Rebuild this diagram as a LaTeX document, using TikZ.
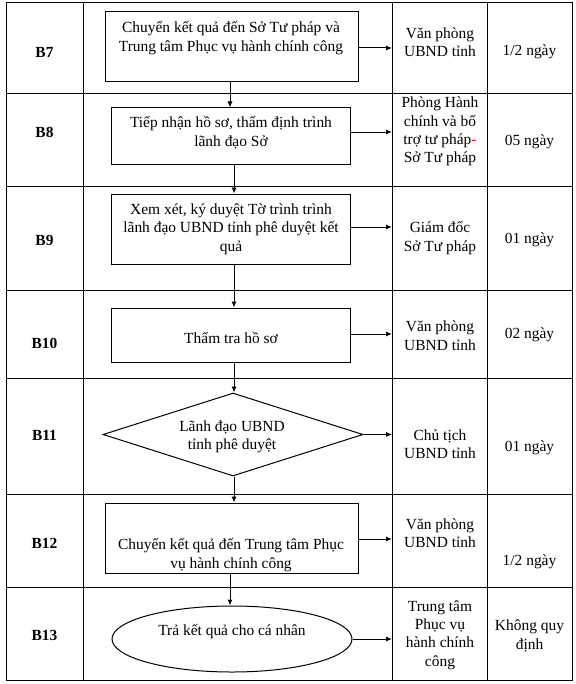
\documentclass[tikz,border=0pt]{standalone}
\usepackage{fontspec}
\setmainfont{Liberation Serif}
\usetikzlibrary{shapes.geometric,arrows.meta}
\begin{document}
\begin{tikzpicture}[x=1bp,y=-1bp,
  txt/.style={font=\fontsize{15.5}{18.5}\selectfont, align=center, inner sep=0pt},
  lbl/.style={font=\fontsize{15.5}{18.5}\selectfont\bfseries, inner sep=0pt},
  gridline/.style={line width=1bp, black},
  box/.style={draw, line width=1bp, rectangle, inner sep=0pt},
  dia/.style={draw, line width=1bp, diamond, inner sep=0pt},
  ell/.style={draw, line width=1bp, ellipse, inner sep=0pt},
  arr/.style={line width=1bp, -{Latex[length=6bp,width=5bp]}}]
\useasboundingbox (0,0) rectangle (576,684);
% table grid
\draw[gridline] (6,3) rectangle (572,680);
\foreach \yy in {94,186,290,378,494,587} \draw[gridline] (6,\yy) -- (572,\yy);
\foreach \xx in {83,392,487} \draw[gridline] (\xx,3) -- (\xx,680);
% step labels
\node[lbl] (l7) at (44.5,52) {B7};
\node[lbl] (l8) at (44.5,132) {B8};
\node[lbl] (l9) at (44.5,240) {B9};
\node[lbl] (l10) at (44.5,343) {B10};
\node[lbl] (l11) at (44.5,435) {B11};
\node[lbl] (l12) at (44.5,543) {B12};
\node[lbl] (l13) at (44.5,635) {B13};
% flowchart shapes
\node[box, minimum width=253bp, minimum height=70bp] (b7) at (231.5,47) {};
\node[box, minimum width=239bp, minimum height=56bp] (b8) at (230.5,136) {};
\node[box, minimum width=239bp, minimum height=70bp] (b9) at (230.5,229) {};
\node[box, minimum width=239bp, minimum height=54bp] (b10) at (230.5,335) {};
\node[dia, minimum width=260bp, minimum height=83bp] (b11) at (233,434.5) {};
\node[box, minimum width=253bp, minimum height=70bp] (b12) at (231.5,538) {};
\node[ell, minimum width=240bp, minimum height=66bp] (b13) at (232,639) {};
% texts in shapes
\node[txt] (t7) at (231,38) {Chuyển kết quả đến Sở Tư pháp và\\Trung tâm Phục vụ hành chính công};
\node[txt] (t8) at (231,132.5) {Tiếp nhận hồ sơ, thẩm định trình\\lãnh đạo Sở};
\node[txt] (t9) at (231,229) {Xem xét, ký duyệt Tờ trình trình\\lãnh đạo UBND tỉnh phê duyệt kết\\quả};
\node[txt] (t10) at (231,338) {Thẩm tra hồ sơ};
\node[txt] (t11) at (232,437) {Lãnh đạo UBND\\tỉnh phê duyệt};
\node[txt] (t12) at (231,555) {Chuyển kết quả đến Trung tâm Phục\\vụ hành chính công};
\node[txt] (t13) at (232,632) {Trả kết quả cho cá nhân};
% responsible units
\node[txt] (r7) at (440,42) {Văn phòng\\UBND tỉnh};
\node[txt] (r8) at (440,131.5) {Phòng Hành\\chính và bổ\\trợ tư pháp\textcolor{red}{-}\\Sở Tư pháp};
\node[txt] (r9) at (440,238) {Giám đốc\\Sở Tư pháp};
\node[txt] (r10) at (440,335.5) {Văn phòng\\UBND tỉnh};
\node[txt] (r11) at (440,444) {Chủ tịch\\UBND tỉnh};
\node[txt] (r12) at (440,533) {Văn phòng\\UBND tỉnh};
\node[txt] (r13) at (440,635) {Trung tâm\\Phục vụ\\hành chính\\công};
% durations
\node[txt] (d7) at (529.5,52) {1/2 ngày};
\node[txt] (d8) at (529.5,142) {05 ngày};
\node[txt] (d9) at (529.5,240) {01 ngày};
\node[txt] (d10) at (529.5,335) {02 ngày};
\node[txt] (d11) at (529.5,448) {01 ngày};
\node[txt] (d12) at (529.5,562) {1/2 ngày};
\node[txt] (d13) at (529.5,636) {Không quy\\định};
% arrow end points on the column line
\coordinate (e7) at (392,48);
\coordinate (e8) at (392,132);
\coordinate (e9) at (392,227);
\coordinate (e10) at (392,334);
\coordinate (e11) at (392,435);
\coordinate (e12) at (392,539);
\coordinate (e13) at (392,635);
\draw[arr] (b7.east |- e7) -- (e7);
\draw[arr] (b8.east |- e8) -- (e8);
\draw[arr] (b9.east |- e9) -- (e9);
\draw[arr] (b10.east |- e10) -- (e10);
\draw[arr] (b11.east) -- (b11.east -| e11);
\draw[arr] (b12.east |- e12) -- (e12);
\draw[arr] (b13.east) -- (b13.east -| e13);
% vertical arrows
\draw[arr] ([xshift=-1.5bp]b7.south) -- ([xshift=-1.5bp]b7.south |- b8.north);
\draw[arr] ([xshift=3.5bp]b8.south) -- ([xshift=3.5bp]b8.south |- b9.north);
\draw[arr] ([xshift=3.5bp]b9.south) -- ([xshift=3.5bp]b9.south |- b10.north);
\draw[arr] ([xshift=3.5bp]b10.south) -- ([xshift=3.5bp]b10.south |- b11.north);
\draw[arr] ([xshift=1bp]b11.south) -- ([xshift=1bp]b11.south |- b12.north);
\draw[arr] ([xshift=-1.5bp]b12.south) -- ([xshift=-1.5bp]b12.south |- b13.north);
\end{tikzpicture}
\end{document}
